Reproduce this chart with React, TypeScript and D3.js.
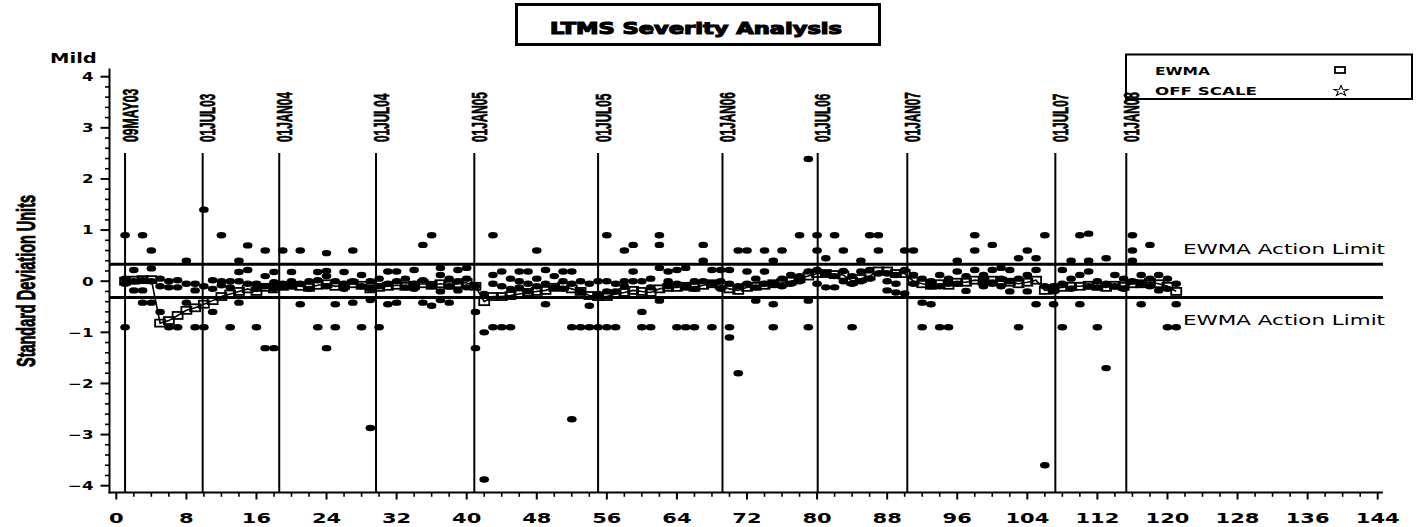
import React from 'react';
import * as d3 from 'd3';

const WIDTH = 1421;
const HEIGHT = 527;

const X_TICKS = [0, 8, 16, 24, 32, 40, 48, 56, 64, 72, 80, 88, 96, 104, 112, 120, 128, 136, 144];
const Y_TICKS = [-4, -3, -2, -1, 0, 1, 2, 3, 4];

const DATE_LABELS = ['09MAY03', '01JUL03', '01JAN04', '01JUL04', '01JAN05', '01JUL05', '01JAN06', '01JUL06', '01JAN07', '01JUL07', '01JAN08'];
const DATE_RUNS = [1.0, 9.86, 18.6, 29.65, 40.87, 55.0, 69.2, 80.07, 90.3, 107.2, 115.3];

const ACTION_UPPER = 0.33;
const ACTION_LOWER = -0.32;

// EWMA for runs 1..121
const EWMA = [
  0.0, 0.02, 0.03, 0.03, -0.82, -0.77, -0.67, -0.57, -0.52, -0.45,
  -0.38, -0.3, -0.25, -0.2, -0.15, -0.2, -0.12, -0.15, -0.1, -0.08,
  -0.1, -0.12, -0.08, -0.05, -0.1, -0.08, -0.05, -0.08, -0.15, -0.12,
  -0.1, -0.08, -0.1, -0.08, -0.05, -0.08, -0.05, -0.08, -0.05, -0.03,
  -0.1, -0.4, -0.3, -0.3, -0.28, -0.25, -0.22, -0.2, -0.18, -0.12,
  -0.1, -0.15, -0.2, -0.28, -0.3, -0.3, -0.25, -0.22, -0.18, -0.2,
  -0.22, -0.15, -0.12, -0.12, -0.1, -0.12, -0.08, -0.05, -0.08, -0.15,
  -0.18, -0.12, -0.1, -0.08, -0.05, -0.03, 0.0, 0.05, 0.1, 0.15,
  0.15, 0.13, 0.12, 0.0, 0.05, 0.1, 0.2, 0.2, 0.15, 0.15,
  0.0, -0.05, -0.08, -0.05, -0.08, -0.02, -0.02, 0.02, 0.0, 0.02,
  0.0, -0.02, -0.05, -0.02, 0.02, -0.18, -0.15, -0.12, -0.1, -0.1,
  -0.08, -0.1, -0.12, -0.08, -0.1, -0.05, -0.05, -0.02, -0.05, -0.1,
  -0.2,
];

// standardized results, one list per run
const RESULTS_1_30 = [
  [0.9, 0.05, -0.05, -0.9], [0.22, 0.0, -0.18], [0.9, 0.02, -0.18, -0.42], [0.6, 0.25, 0.0, -0.42],
  [0.05, -0.1, -0.6], [0.0, -0.12, -0.9], [0.02, -0.12, -0.9], [0.4, -0.05, -0.42],
  [-0.05, -0.18, -0.9], [1.4, -0.1, -0.9], [0.02, -0.15, -0.6], [0.9, 0.0, -0.08],
  [0.0, -0.12, -0.9], [0.4, 0.18, 0.0, -0.42], [0.7, 0.22, -0.05], [-0.05, -0.15, -0.9],
  [0.6, 0.1, -0.1, -1.31], [0.18, -0.02, -0.15, -1.31], [0.6, -0.05, -0.1], [0.18, 0.0, -0.08],
  [0.6, -0.05, -0.45], [0.0, -0.15], [0.18, 0.02, -0.9], [0.55, 0.2, 0.1, -0.1, -1.31],
  [0.0, -0.45, -0.9], [0.18, -0.05, -0.15], [0.6, 0.0, -0.42], [0.12, -0.1, -0.9],
  [0.0, -0.15, -0.37, -2.87], [0.05, -0.1, -0.9],
];
const RESULTS_31_60 = [
  [0.19, -0.05, -0.45], [0.19, 0.0, -0.42], [0.05, -0.12], [0.22, -0.05, -0.15],
  [0.71, 0.02, -0.42], [0.9, -0.08, -0.48], [0.26, 0.12, -0.2, -0.37], [0.05, -0.1, -0.42],
  [0.22, 0.0, -0.18], [0.26, 0.05, -0.12], [-0.1, -0.6, -1.31], [-0.25, -1.0, -3.88],
  [0.9, 0.12, -0.05, -0.9], [0.19, -0.1, -0.9], [0.05, -0.15, -0.9], [0.19, 0.0, -0.12],
  [0.19, -0.05, -0.2], [0.6, 0.05, -0.1], [0.22, -0.05, -0.45], [0.1, -0.12],
  [0.19, 0.0, -0.15], [0.19, -0.05, -0.9, -2.7], [0.0, -0.2, -0.9], [-0.05, -0.48, -0.9],
  [0.0, -0.25, -0.9], [0.9, 0.0, -0.2, -0.9], [-0.05, -0.2, -0.9], [0.6, 0.0, -0.1],
  [0.71, 0.19, 0.0], [0.0, -0.6, -0.9],
];
const RESULTS_61_90 = [
  [0.05, -0.12, -0.9], [0.9, 0.71, 0.26, -0.38], [0.19, 0.0, -0.1], [0.22, -0.05, -0.9],
  [0.26, -0.1, -0.9], [0.0, -0.15, -0.9], [0.71, 0.4, 0.0], [0.22, -0.05, -0.9],
  [0.22, 0.0, -0.15], [0.22, -0.05, -0.9, -1.1], [0.6, -0.1, -1.8], [0.6, 0.19, -0.05],
  [0.05, -0.12, -0.38], [0.6, 0.19, -0.05], [0.4, -0.05, -0.45, -0.9], [0.6, 0.05, -0.1],
  [0.12, -0.05], [0.9, 0.1, 0.0], [2.39, 0.19, -0.38, -0.9], [0.9, 0.6, 0.22, -0.05],
  [0.45, 0.15, -0.12], [0.9, 0.1, -0.12], [0.6, 0.2, 0.0], [0.1, -0.05, -0.9],
  [0.4, 0.19, 0.0], [0.9, 0.22, 0.05], [0.9, 0.6, 0.15], [0.15, 0.0, -0.18],
  [0.12, -0.05, -0.22], [0.6, 0.22, -0.24],
];
const RESULTS_91_121 = [
  [0.6, 0.12, -0.05], [0.05, -0.42, -0.9], [0.0, -0.1, -0.45], [0.12, -0.1, -0.9],
  [0.05, -0.05, -0.9], [0.4, 0.19, -0.05], [0.1, -0.19], [0.9, 0.6, 0.22],
  [0.12, 0.0, -0.1], [0.71, 0.22, -0.05], [0.26, 0.05, -0.1], [0.22, 0.0, -0.2],
  [0.45, 0.05, -0.9], [0.6, 0.12, -0.2], [0.45, 0.22, -0.45], [0.9, -0.1, -3.6],
  [-0.1, -0.2, -0.45], [0.22, -0.05, -0.9], [0.4, 0.05, -0.15], [0.9, 0.12, -0.45],
  [0.93, 0.4, 0.19, -0.1], [0.0, -0.12, -0.9], [0.45, -0.05, -1.7], [0.12, -0.1],
  [0.05, -0.15], [0.9, 0.6, 0.4, 0.0], [0.12, -0.05, -0.45], [0.71, 0.05, -0.1],
  [0.12, -0.18], [0.05, -0.15, -0.9], [-0.05, -0.45, -0.9],
];

const WIDE = 1.45; // horizontal stretch of the original device fonts
const SANS = "'DejaVu Sans', 'Liberation Sans', sans-serif";
const NARROW = "'Liberation Sans Narrow', 'Liberation Sans', 'DejaVu Sans Condensed', sans-serif";

// rough advance widths of the squeezed date labels
function dateLabelLength(s: string) {
  const w: Record<string, number> = { M: 9.5, J: 6, L: 6.3, A: 7.5, Y: 7.5, N: 7.6, U: 7.3 };
  return Array.from(s).reduce((acc, c) => acc + (w[c] ?? 7.2), 0);
}

function WideText({ x, y, anchor = 'start', size, weight = 'normal', children }: any) {
  return (
    <text
      transform={`translate(${x},${y}) scale(${WIDE},1)`}
      textAnchor={anchor}
      fontSize={size}
      fontWeight={weight}
      fontFamily={SANS}
      fill="#000"
    >
      {children}
    </text>
  );
}

export default function App() {
  const x = d3.scaleLinear().domain([0, 144]).range([116.3, 1377.7]);
  const y = d3.scaleLinear().domain([-4, 4]).range([485.7, 76.7]);

  const axisLeft = 109.5;
  const axisBottom = 492.5;
  const axisRight = x(144.6);
  const axisTop = y(4.16);

  const results = [...RESULTS_1_30, ...RESULTS_31_60, ...RESULTS_61_90, ...RESULTS_91_121];
  const points = results.flatMap((vals, i) => vals.map(v => ({ run: i + 1, v })));
  const ewmaPts = EWMA.map((v, i) => ({ run: i + 1, v }));

  const ewmaLine = d3.line<{ run: number; v: number }>()
    .x(d => x(d.run))
    .y(d => y(d.v));

  const xMinor = d3.range(0, 145, 2).filter(v => v % 8 !== 0);
  const yMinor = d3.range(-40, 41, 2).filter(v => v % 10 !== 0).map(v => v / 10);

  const star = d3.symbol(d3.symbolStar, 34)() || '';

  return (
    <svg
      width={WIDTH}
      height={HEIGHT}
      style={{ position: 'absolute', left: 0, top: 0, background: '#fff' }}
    >
      {/* title */}
      <rect x={516.5} y={4.5} width={363} height={40} fill="none" stroke="#000" strokeWidth={3} />
      <text
        x={550}
        y={33.5}
        fontSize={15}
        fontWeight="bold"
        fontFamily={SANS}
        textLength={292}
        lengthAdjust="spacingAndGlyphs"
        stroke="#000"
        strokeWidth={1.1}
      >
        LTMS Severity Analysis
      </text>

      {/* legend */}
      <rect x={1126} y={54.5} width={286} height={44.5} fill="none" stroke="#000" strokeWidth={2} />
      <text x={1155} y={74.5} fontSize={10} fontWeight="bold" fontFamily={SANS}
        textLength={55} lengthAdjust="spacingAndGlyphs">EWMA</text>
      <text x={1155} y={95} fontSize={10} fontWeight="bold" fontFamily={SANS}
        textLength={102} lengthAdjust="spacingAndGlyphs">OFF SCALE</text>
      <rect x={1335} y={67} width={10} height={6} fill="none" stroke="#000" strokeWidth={1.8} />
      <path d={star} transform="translate(1341,91) scale(1.4,1)" fill="none" stroke="#000" strokeWidth={0.8} />

      {/* date reference lines */}
      {DATE_RUNS.map((r, i) => (
        <g key={DATE_LABELS[i]}>
          <line x1={x(r)} x2={x(r)} y1={153} y2={axisBottom} stroke="#000" strokeWidth={2} />
          <text
            transform={`translate(${x(r) + 12.5},142) rotate(-90)`}
            fontSize={22}
            fontWeight="bold"
            fontFamily={NARROW}
            textLength={dateLabelLength(DATE_LABELS[i])}
            lengthAdjust="spacingAndGlyphs"
            stroke="#000"
            strokeWidth={0.7}
          >
            {DATE_LABELS[i]}
          </text>
        </g>
      ))}

      {/* action limits */}
      {[ACTION_UPPER, ACTION_LOWER].map(v => (
        <line key={v} x1={axisLeft} x2={axisRight} y1={y(v)} y2={y(v)} stroke="#000" strokeWidth={3} />
      ))}
      <text x={1183} y={253.5} fontSize={14} fontFamily={SANS}
        textLength={202} lengthAdjust="spacingAndGlyphs">EWMA Action Limit</text>
      <text x={1183} y={325} fontSize={14} fontFamily={SANS}
        textLength={202} lengthAdjust="spacingAndGlyphs">EWMA Action Limit</text>

      {/* EWMA */}
      <path d={ewmaLine(ewmaPts) || ''} fill="none" stroke="#000" strokeWidth={1.6} />
      {ewmaPts.map(d => (
        <rect key={`e${d.run}`} x={x(d.run) - 5} y={y(d.v) - 3.5} width={10} height={7}
          fill="none" stroke="#000" strokeWidth={1.8} />
      ))}

      {/* results */}
      {points.map((d, i) => (
        <ellipse key={i} cx={x(d.run)} cy={y(d.v)} rx={4.8} ry={3.2} fill="#000" />
      ))}

      {/* y axis */}
      <line x1={axisLeft} x2={axisLeft} y1={axisTop} y2={axisBottom + 1} stroke="#000" strokeWidth={2} />
      {Y_TICKS.map(v => (
        <g key={`yt${v}`}>
          <line x1={axisLeft - 9} x2={axisLeft} y1={y(v)} y2={y(v)} stroke="#000" strokeWidth={2} />
          <WideText x={93.5} y={y(v) + 4.3} anchor="end" size={11.5} weight="bold">
            {v < 0 ? `\u2212${-v}` : `${v}`}
          </WideText>
        </g>
      ))}
      {yMinor.map(v => (
        <line key={`ym${v}`} x1={axisLeft - 4.5} x2={axisLeft} y1={y(v)} y2={y(v)} stroke="#000" strokeWidth={1.6} />
      ))}
      <WideText x={50} y={63} size={13.5} weight="bold">Mild</WideText>
      <text
        transform="translate(35,281) rotate(-90)"
        textAnchor="middle"
        fontSize={26}
        fontWeight="bold"
        fontFamily={NARROW}
        textLength={172}
        lengthAdjust="spacingAndGlyphs"
        stroke="#000"
        strokeWidth={0.9}
      >
        Standard Deviation Units
      </text>

      {/* x axis */}
      <line x1={axisLeft - 1} x2={axisRight} y1={axisBottom} y2={axisBottom} stroke="#000" strokeWidth={2} />
      {X_TICKS.map(v => (
        <g key={`xt${v}`}>
          <line x1={x(v)} x2={x(v)} y1={axisBottom} y2={axisBottom + 7} stroke="#000" strokeWidth={2} />
          <WideText x={x(v)} y={523} anchor="middle" size={14.5} weight="bold">{v}</WideText>
        </g>
      ))}
      {xMinor.map(v => (
        <line key={`xm${v}`} x1={x(v)} x2={x(v)} y1={axisBottom} y2={axisBottom + 4.3} stroke="#000" strokeWidth={1.6} />
      ))}
    </svg>
  );
}
